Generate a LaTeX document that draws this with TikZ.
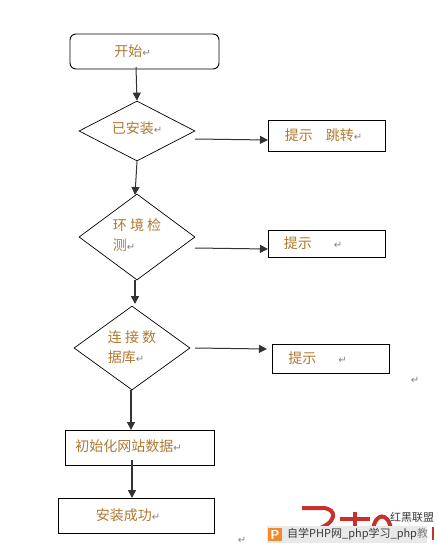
\documentclass[tikz,border=0pt]{standalone}
\usepackage{fontspec}
\usetikzlibrary{shapes.geometric,arrows.meta}
\newfontfamily\cjk{Noto Sans CJK SC}
\newfontfamily\djv{DejaVu Sans}
\definecolor{txt}{HTML}{B0782E}
\definecolor{mk}{HTML}{808080}
\definecolor{logored}{HTML}{C9302B}
\definecolor{wbar}{HTML}{E9E9E9}
\definecolor{wicon}{HTML}{F08A2C}
\definecolor{wtxt}{HTML}{3A3A3A}
\newcommand{\rt}{{\djv\fontsize{10}{10}\selectfont\textcolor{mk}{↵}}}
\newcommand{\twolines}[3]{\raisebox{#1}[20pt][20pt]{\begin{tabular}{@{}l@{}}#2\\#3\end{tabular}}}
\tikzset{
 lbl/.style={text=txt,font=\cjk\fontsize{14}{20}\selectfont,align=left,inner sep=0pt},
 boxn/.style={draw=black,line width=0.9pt,lbl},
 dia/.style={draw=black,line width=0.7pt,diamond,inner sep=0pt,lbl},
 conn/.style={draw=black!80,line width=1pt,-{Triangle[length=8pt,width=8pt]}},
 heavy/.style={conn,line width=1.6pt},
 stray/.style={inner sep=0pt},
 logo/.style={draw=logored,line width=4pt},
}
\begin{document}
\begin{tikzpicture}[x=1pt,y=-1pt]
\useasboundingbox (0,0) rectangle (437,549);
\node[boxn,rounded corners=6pt,minimum width=149pt,minimum height=35pt] (start) at (144.5,51.5) {\hspace*{-24pt}\raisebox{1pt}{开始\rt}};
\node[dia,minimum width=116pt,minimum height=60pt,aspect=1.9] (d1) at (137,131) {\raisebox{-2pt}[10pt][10pt]{已安装\rt}};
\node[boxn,minimum width=117pt,minimum height=31pt] (b1) at (326.5,135.5) {\hspace*{-6pt}\raisebox{-1pt}{提示\hspace{13pt}跳转\rt}};
\node[dia,minimum width=116pt,minimum height=86pt,aspect=1.35] (d2) at (137,237) {\twolines{-3.5pt}{环 境 检}{测\rt}};
\node[boxn,minimum width=117pt,minimum height=27pt] (b2) at (326.5,243.5) {\hspace*{-27pt}\raisebox{-1pt}{提示\hspace{22pt}\rt}};
\node[dia,minimum width=116pt,minimum height=84pt,aspect=1.38] (d3) at (132,348) {\twolines{-4.5pt}{连 接 数}{据库\rt}};
\node[boxn,minimum width=117pt,minimum height=29pt] (b3) at (330.5,358.5) {\hspace*{-26pt}提示\hspace{22pt}\rt};
\node[boxn,minimum width=149pt,minimum height=35pt] (b4) at (139.5,447.5) {\hspace*{-22pt}\raisebox{3pt}{初始化网站数据\rt}};
\node[boxn,minimum width=156pt,minimum height=35pt] (b5) at (136,515.5) {\hspace*{-16pt}\raisebox{1pt}{安装成功\rt}};
\coordinate (s1) at (136,67);
\coordinate (a1) at (195,139);
\coordinate (e1) at (268,140);
\coordinate (a2) at (195,248);
\coordinate (e2) at (268,249);
\coordinate (a3) at (195,348);
\coordinate (e3) at (267,349);
\coordinate (a4) at (132,460);
\coordinate (t2) at (135,195);
\coordinate (t3) at (135,304);
\coordinate (t4) at (131,430);
\coordinate (t5) at (132,498);
\coordinate (f2) at (135,280);
\coordinate (f3) at (131,390);
\draw[conn] (s1) -- (d1.north);
\draw[conn] (d1.south) -- (t2);
\draw[conn] (a1) -- (e1);
\draw[conn] (a2) -- (e2);
\draw[conn] (a3) -- (e3);
\draw[heavy] (f2) -- (t3);
\draw[heavy] (f3) -- (t4);
\draw[heavy] (a4) -- (t5);
\node[stray] (m1) at (415,380) {\rt};
\node[stray] (m2) at (242,540) {\rt};
% watermark
\draw[logo] (302,508) -- (322,508) .. controls (338,508) and (338,524) .. (314,530);
\draw[logo] (355,512) -- (355,528);
\draw[logo] (340,519) -- (370,519);
\draw[logo] (373,530) .. controls (375,512) and (389,512) .. (391,530);
\node[font=\cjk\fontsize{11}{11}\selectfont,text=wtxt,inner sep=0pt] (w1) at (412,517) {红黑联盟};
\fill[wbar] (267,526) rectangle (427,543);
\fill[logored] (432,527) rectangle (434,540);
\fill[wicon] (268,528) rectangle (282,541);
\node[font=\sffamily\bfseries\fontsize{13}{13}\selectfont,text=white,inner sep=0pt] (w2) at (275,534.5) {P};
\node[font=\cjk\fontsize{11}{11}\selectfont,text=wtxt,anchor=west,inner sep=0pt] (w3) at (287,534.5) {自学PHP网\_php学习\_php\textcolor{gray}{教}};
\end{tikzpicture}
\end{document}
